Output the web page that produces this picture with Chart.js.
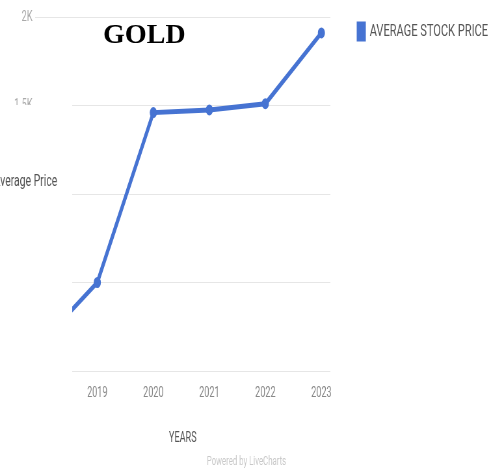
<!DOCTYPE html>
<html>
<head>
<meta charset="utf-8">
<script src="https://cdn.jsdelivr.net/npm/chart.js@4/dist/chart.umd.min.js"></script>
<style>
  html, body { margin: 0; padding: 0; background: #fff; width: 489px; height: 468px; overflow: hidden; }
  /* the chart is drawn wide and squeezed horizontally */
  #wrap { width: 752px; height: 468px; transform: scaleX(0.6503); transform-origin: 0 0; }
</style>
</head>
<body>
<div id="wrap"><canvas id="goldChart" width="752" height="468"></canvas></div>
<script>
// yearly average gold stock price
let years = [2018, 2019, 2020, 2021, 2022, 2023];
let avgPrice = [160, 500, 1460, 1475, 1510, 1910];
let priceTicks = [0, 500, 1000, 1500, 2000];
let tickNames = ['0', '500', '1K', '1.5K', '2K'];

let squeeze = 489 / 752;
let font = 'Roboto, sans-serif';
let lineColor = '#4673d2';

// legend sits a little away from the plot
let legendGap = {
  id: 'legendGap',
  beforeInit(chart) {
    let lg = chart.legend;
    let fit = lg.fit;
    lg.fit = function () {
      fit.call(this);
      this.width = 244;
    };
  },
  afterLayout(chart) {
    let lg = chart.legend;
    lg.left += 33;
    lg.width -= 33;
    lg.top -= 4;
  }
};

// title, left panel and footer text
let overlay = {
  id: 'overlay',
  afterDraw(chart) {
    let ctx = chart.ctx;
    ctx.save();
    ctx.fillStyle = '#fff';
    ctx.fillRect(0, 105, 111, 363);

    ctx.fillStyle = '#555';
    ctx.font = '16px ' + font;
    ctx.textAlign = 'right';
    ctx.textBaseline = 'middle';
    ctx.fillText('Average Price', 88, 182);

    ctx.fillStyle = '#c8c8c8';
    ctx.font = '12px ' + font;
    ctx.textAlign = 'left';
    ctx.textBaseline = 'alphabetic';
    ctx.fillText('Powered by LiveCharts', 318, 465);

    // title is drawn at normal width
    ctx.translate(158.5, 43);
    ctx.scale(1 / squeeze, 1);
    ctx.fillStyle = '#000';
    ctx.font = 'bold 28px "Liberation Serif", serif';
    ctx.fillText('GOLD', 0, 0);
    ctx.restore();
  }
};

let ctx = document.getElementById('goldChart');
let goldChart = new Chart(ctx, {
  type: 'line',
  data: {
    datasets: [{
      label: 'AVERAGE STOCK PRICE',
      data: years.map((y, i) => ({ x: y, y: avgPrice[i] })),
      borderColor: lineColor,
      backgroundColor: lineColor,
      borderWidth: 5,
      pointRadius: 3,
      pointHoverRadius: 3,
      tension: 0
    }]
  },
  options: {
    responsive: false,
    animation: false,
    layout: { padding: { left: 14, top: 17, right: 0, bottom: 21.6 } },
    plugins: {
      tooltip: { enabled: false },
      legend: {
        position: 'right',
        align: 'start',
        labels: {
          boxWidth: 9,
          boxHeight: 15,
          color: '#555',
          font: { family: font, size: 17 }
        }
      }
    },
    scales: {
      x: {
        type: 'linear',
        min: 2017.89,
        max: 2023.16,
        afterBuildTicks: axis => { axis.ticks = years.map(v => ({ value: v })); },
        afterFit: axis => { axis.height = 75.4; },
        grid: { display: false, drawTicks: false },
        border: { display: false },
        ticks: {
          padding: 14,
          maxRotation: 0,
          color: '#888',
          font: { family: font, size: 14 },
          callback: v => String(v)
        },
        title: {
          display: true,
          text: 'YEARS',
          color: '#555',
          font: { family: font, size: 14 },
          padding: { top: 29, bottom: 0 }
        }
      },
      y: {
        min: 0,
        max: 2000,
        afterBuildTicks: axis => { axis.ticks = priceTicks.map(v => ({ value: v })); },
        afterFit: axis => { axis.width = 40; },
        grid: { color: '#e6e6e6', drawTicks: false },
        border: { display: false },
        ticks: {
          padding: 4,
          color: '#aaa',
          font: { family: font, size: 14 },
          callback: v => tickNames[priceTicks.indexOf(v)]
        }
      }
    }
  },
  plugins: [legendGap, overlay]
});
</script>
</body>
</html>
